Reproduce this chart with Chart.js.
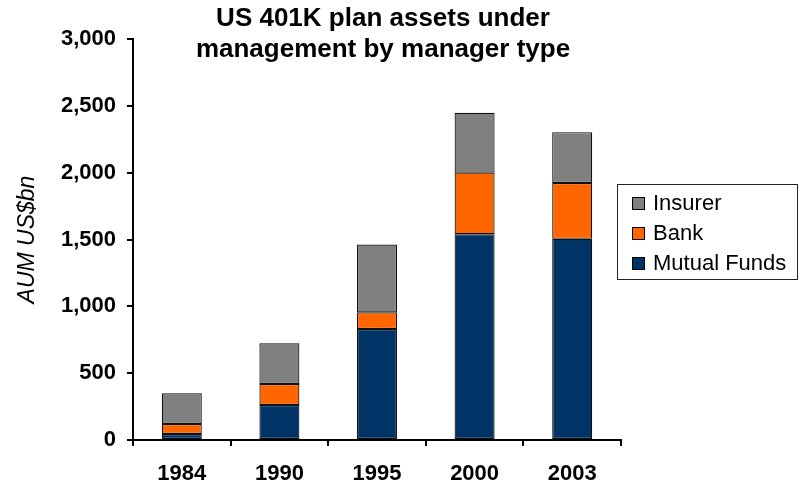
<!DOCTYPE html>
<html>
<head>
<meta charset="utf-8">
<script src="https://cdn.jsdelivr.net/npm/chart.js@4"></script>
<style>
  body { margin: 0; background: #fff; }
  #wrap { width: 802px; height: 484px; }
</style>
</head>
<body>
<div id="wrap"><canvas id="aumChart" width="802" height="484"></canvas></div>
<script>
const years = ['1984', '1990', '1995', '2000', '2003'];
const mutualFunds = [45, 262, 830, 1540, 1505];
const bank = [75, 157, 125, 460, 418];
const insurer = [230, 305, 508, 448, 380];
const yTicks = [0, 500, 1000, 1500, 2000, 2500, 3000];

const titleLines = ['US 401K plan assets under', 'management by manager type'];
const FONT = 'Arial, "Liberation Sans", sans-serif';

// title drawn by hand so it can sit slightly right of centre like the original
const titlePlugin = {
  id: 'twoLineTitle',
  afterDraw(chart) {
    const ctx = chart.ctx;
    ctx.save();
    ctx.font = 'bold 26px ' + FONT;
    ctx.fillStyle = '#000';
    ctx.textAlign = 'center';
    ctx.textBaseline = 'alphabetic';
    const cx = (chart.chartArea.left + chart.chartArea.right) / 2 + 6;
    ctx.fillText(titleLines[0], cx, 26);
    ctx.fillText(titleLines[1], cx, 57);
    ctx.restore();
  }
};

// boxed legend on the right, top series first
const boxLegend = {
  id: 'boxLegend',
  afterDraw(chart) {
    const ctx = chart.ctx;
    const sets = chart.data.datasets.slice().reverse();
    const x0 = 617, y0 = 184, w = 180, h = 95;
    ctx.save();
    ctx.fillStyle = '#fff';
    ctx.fillRect(x0, y0, w, h);
    ctx.strokeStyle = '#222';
    ctx.lineWidth = 1;
    ctx.strokeRect(x0 + 0.5, y0 + 0.5, w, h);
    ctx.font = '22px ' + FONT;
    ctx.textBaseline = 'middle';
    sets.forEach((ds, i) => {
      const cy = y0 + 19 + i * 30;
      ctx.fillStyle = ds.backgroundColor;
      ctx.fillRect(632, cy - 6, 12, 12);
      ctx.strokeStyle = '#000';
      ctx.strokeRect(632.5, cy - 5.5, 12, 12);
      ctx.fillStyle = '#000';
      ctx.fillText(ds.label, 653, cy + 1);
    });
    ctx.restore();
  }
};

const ctx = document.getElementById('aumChart').getContext('2d');
new Chart(ctx, {
  type: 'bar',
  data: {
    labels: years,
    datasets: [
      { label: 'Mutual Funds', data: mutualFunds, backgroundColor: '#003366' },
      { label: 'Bank', data: bank, backgroundColor: '#FF6600' },
      { label: 'Insurer', data: insurer, backgroundColor: '#808080' }
    ].map(d => Object.assign(d, {
      borderColor: '#111',
      borderWidth: 1.2,
      borderSkipped: false,
      barPercentage: 0.41,
      categoryPercentage: 1
    }))
  },
  options: {
    responsive: false,
    animation: false,
    layout: { padding: { top: 39, right: 181, left: 0, bottom: 0 } },
    plugins: {
      legend: { display: false },
      title: { display: false },
      tooltip: { enabled: false }
    },
    scales: {
      x: {
        stacked: true,
        border: { color: '#000', width: 2 },
        grid: { drawOnChartArea: false, drawTicks: true, tickLength: 6, color: '#000', lineWidth: 2, offset: true },
        ticks: { color: '#000', font: { family: FONT, size: 22, weight: 'bold' }, padding: 15, maxRotation: 0 },
        afterFit(s) { s.height = 44; }
      },
      y: {
        stacked: true,
        min: 0,
        max: 3000,
        afterBuildTicks(s) { s.ticks = yTicks.map(v => ({ value: v })); },
        border: { color: '#000', width: 2 },
        grid: { drawOnChartArea: false, drawTicks: true, tickLength: 6, color: '#000', lineWidth: 2 },
        ticks: {
          color: '#000',
          font: { family: FONT, size: 22, weight: 'bold' },
          padding: 11,
          callback: v => v.toLocaleString('en-US')
        },
        title: {
          display: true,
          text: 'AUM US$bn',
          color: '#000',
          font: { family: FONT, size: 23, style: 'italic' },
          padding: { top: 14, bottom: 0 }
        },
        afterFit(s) { s.width = 133; }
      }
    }
  },
  plugins: [titlePlugin, boxLegend]
});
</script>
</body>
</html>
